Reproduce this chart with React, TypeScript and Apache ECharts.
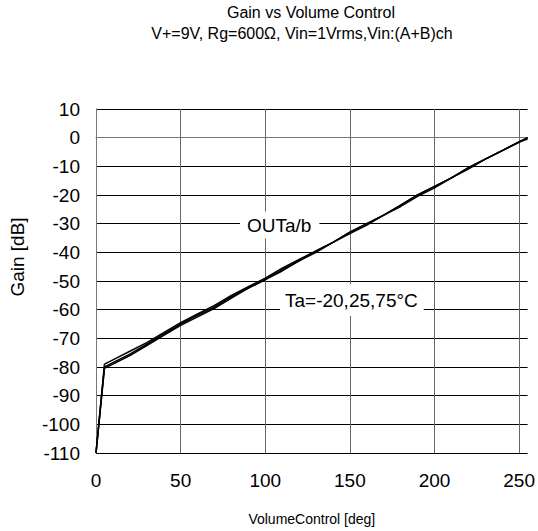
import React, { useEffect, useRef } from "react";
import * as echarts from "echarts";

const xValues = [0, 5, 10, 20, 30, 40, 50, 60, 70, 80, 90, 100, 110, 120, 130, 140, 150, 160, 170, 180, 190, 200, 210, 220, 230, 240, 250, 255];
const gainTaM20 = [-110, -79, -77.5, -74.5, -71.5, -68, -64.5, -61.5, -58.5, -55, -52, -49, -45.5, -42.5, -39.5, -36.5, -33, -30, -27, -23.5, -20, -17, -14, -10.5, -7.5, -4.5, -1.5, 0];
const gainTa25 = [-110, -80, -78.5, -75.5, -72, -68.5, -65, -62, -59, -55.5, -52.5, -49.5, -46, -43, -39.5, -36.5, -33, -30, -27, -23.5, -20, -17, -14, -10.5, -7.5, -4.5, -1.5, 0];
const gainTa75 = [-110, -80.5, -79, -76, -72.5, -69, -65.5, -62.5, -59.5, -56, -52.5, -49.5, -46.5, -43, -40, -36.5, -33.5, -30.5, -27, -24, -20.5, -17.5, -14, -11, -7.5, -4.5, -1.5, -0.5];
const xTicks = [0, 50, 100, 150, 200, 250];

const FONT = "Liberation Sans, Arial, sans-serif";

export default function App() {
  const ref = useRef<HTMLDivElement>(null);
  useEffect(() => {
    const chart = echarts.init(ref.current!, undefined, { renderer: "svg" });
    const mk = (vals: number[]) => xValues.map((x, i) => [x, vals[i]]);
    const lineSeries = (name: string, vals: number[]) => ({
      name,
      type: "line",
      data: mk(vals),
      showSymbol: false,
      symbol: "none",
      lineStyle: { color: "#000", width: 1.5 },
      z: 3,
    });
    chart.setOption({
      animation: false,
      backgroundColor: "#fff",
      textStyle: { fontFamily: FONT },
      grid: { left: 96, right: 10, top: 109, bottom: 78, containLabel: false },
      xAxis: {
        type: "value",
        min: 0,
        max: 255,
        interval: 50,
        name: "VolumeControl [deg]",
        nameLocation: "middle",
        nameGap: 59,
        nameTextStyle: { fontSize: 14, color: "#000", fontFamily: FONT },
        axisLine: { show: true, lineStyle: { color: "#777", width: 1 } },
        axisTick: { show: false },
        axisLabel: { fontSize: 19, color: "#000", margin: 18, showMaxLabel: false, fontFamily: FONT,
          formatter: (v: number) => (xTicks.includes(v) ? String(v) : "") },
        splitLine: { show: true, lineStyle: { color: ["#666", "#666", "#666", "#666", "#666", "#666", "rgba(0,0,0,0)"], width: 1 } },
      },
      yAxis: {
        type: "value",
        min: -110,
        max: 10,
        interval: 10,
        axisLine: { show: true, lineStyle: { color: "#777", width: 1 } },
        axisTick: { show: false },
        axisLabel: { fontSize: 19, color: "#000", margin: 16, fontFamily: FONT },
        splitLine: { show: true, lineStyle: { color: "#000", width: 1 } },
      },
      graphic: [
        {
          type: "text",
          x: 311,
          y: 12,
          style: { text: "Gain vs Volume Control", fontSize: 16, fill: "#000", textAlign: "center", textVerticalAlign: "middle", fontFamily: FONT },
        },
        {
          type: "text",
          x: 302,
          y: 33,
          style: { text: "V+=9V, Rg=600Ω, Vin=1Vrms,Vin:(A+B)ch", fontSize: 16, fill: "#000", textAlign: "center", textVerticalAlign: "middle", fontFamily: FONT },
        },
        {
          type: "text",
          x: 17,
          y: 257,
          rotation: Math.PI / 2,
          style: { text: "Gain [dB]", fontSize: 19, fill: "#000", textAlign: "center", textVerticalAlign: "middle", fontFamily: FONT },
        },
        {
          type: "text",
          x: 240,
          y: 225,
          z: 10,
          style: { text: "OUTa/b", fontSize: 19, fill: "#000", textAlign: "left", textVerticalAlign: "middle", backgroundColor: "#fff", padding: [4, 8, 4, 7], fontFamily: FONT },
        },
        {
          type: "text",
          x: 280,
          y: 300,
          z: 10,
          style: { text: "Ta=-20,25,75°C", fontSize: 19, fill: "#000", textAlign: "left", textVerticalAlign: "middle", backgroundColor: "#fff", padding: [4, 6, 9, 5], fontFamily: FONT },
        },
      ],
      series: [lineSeries("-20", gainTaM20), lineSeries("25", gainTa25), lineSeries("75", gainTa75)],
    });
    return () => chart.dispose();
  }, []);
  return <div ref={ref} style={{ position: "absolute", left: 0, top: 0, width: 538, height: 531 }} />;
}
